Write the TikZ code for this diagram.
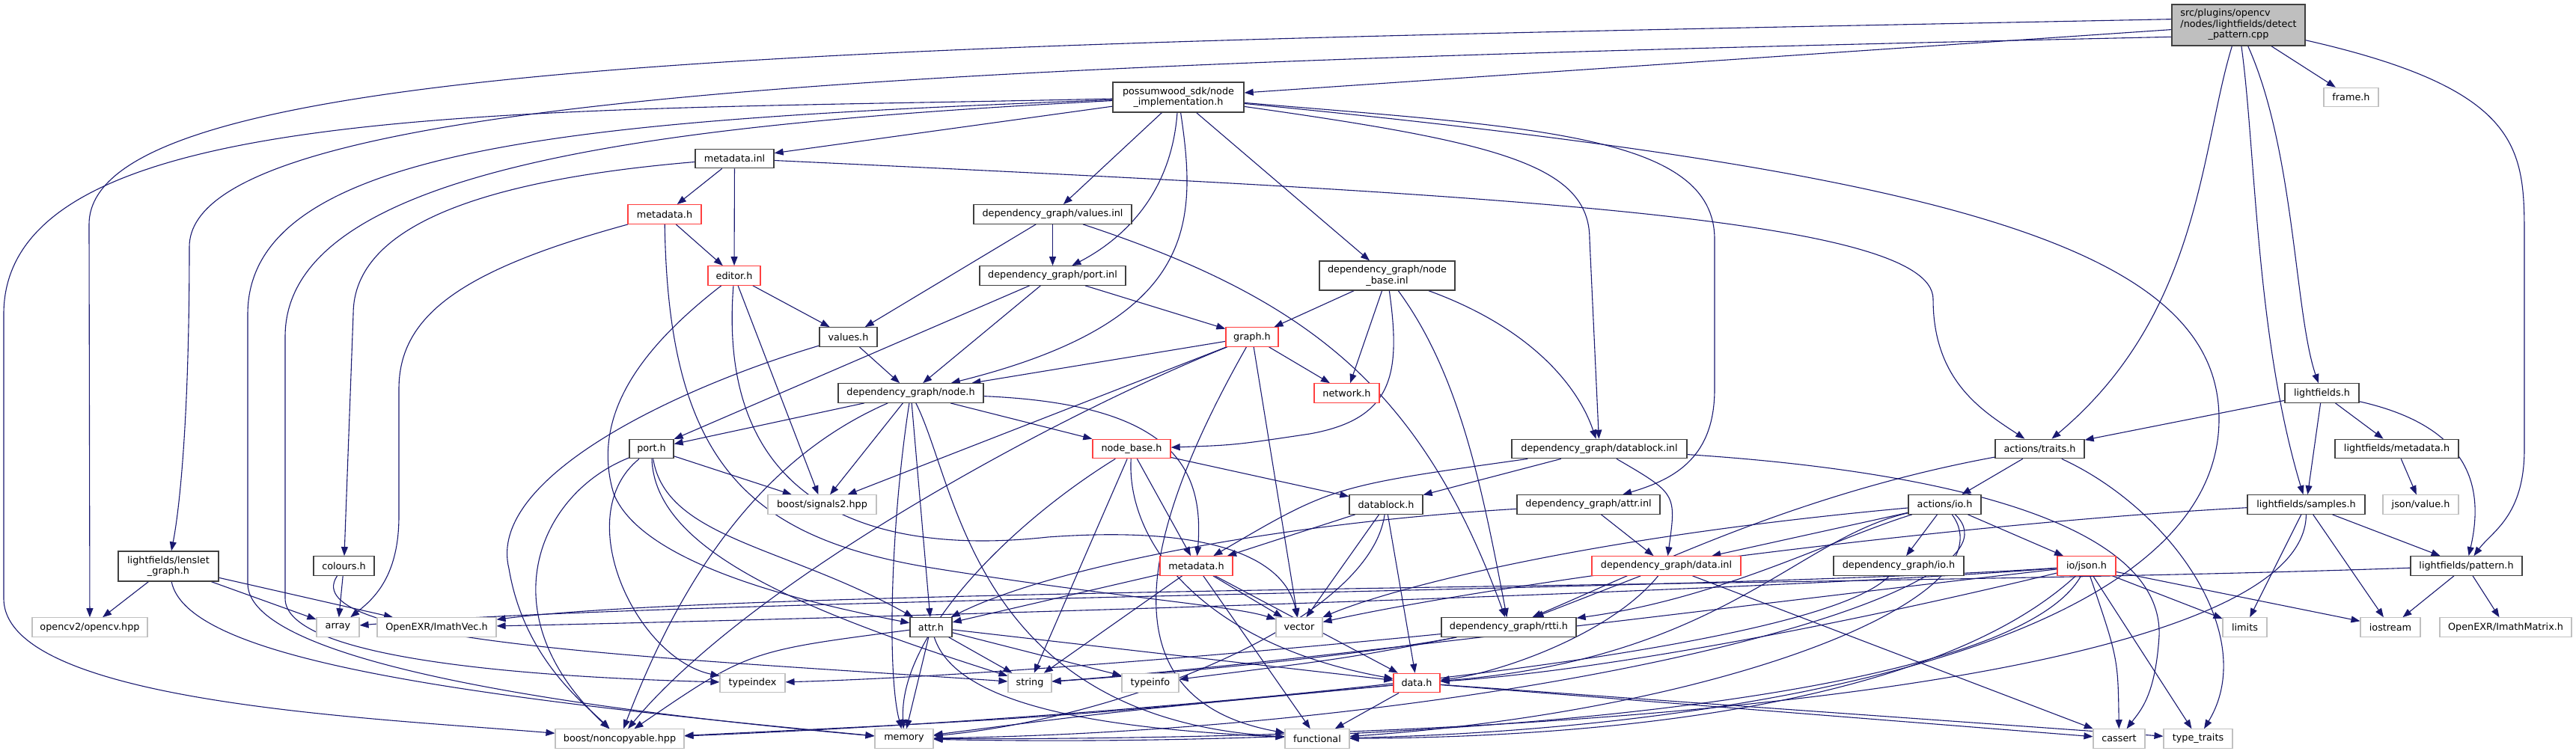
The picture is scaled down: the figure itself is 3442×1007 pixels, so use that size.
\documentclass[tikz,border=0pt]{standalone}
\usepackage{fontspec}
\setmainfont{DejaVu Sans}
\usetikzlibrary{arrows.meta}
\pgfdeclarelayer{bg}
\pgfsetlayers{bg,main}
\definecolor{edgec}{HTML}{191970}
\definecolor{bblack}{HTML}{404040}
\definecolor{bred}{HTML}{FF4040}
\definecolor{bgray}{HTML}{C0C0C0}
\definecolor{mfill}{HTML}{BFBFBF}
\tikzset{
  bx/.style={draw=bblack, line width=1.3pt, fill=white, inner sep=0pt, minimum height=25.5pt,
    font=\fontsize{12.8pt}{14.5pt}\selectfont, align=center},
  rbx/.style={bx, draw=bred},
  gbx/.style={bx, draw=bgray, line width=1.1pt},
  lnk/.style={draw=edgec, line width=1.1pt, -{Triangle[length=12pt,width=9pt]}}
}
\begin{document}
\begin{tikzpicture}[x=1pt,y=-1pt]
\useasboundingbox (0,0) rectangle (3442,1007);
% ---------------- nodes
\node[bx, fill=mfill, minimum width=178pt, minimum height=55pt] (nmain) at (2991,33.5)
  {\begin{tabular}{@{}l@{}}src/plugins/opencv\\/nodes/lightfields/detect\\\multicolumn{1}{@{}c@{}}{\_pattern.cpp}\end{tabular}};
\node[bx, minimum width=175pt, minimum height=40pt] (nposs) at (1574.5,130) {possumwood\_sdk/node\\\_implementation.h};
\node[gbx, minimum width=73pt] (nframe) at (3141.5,130) {frame.h};
\node[bx, minimum width=105pt] (nmdinl) at (981.5,212) {metadata.inl};
\node[rbx, minimum width=98pt] (nmdh1) at (888,286.5) {metadata.h};
\node[bx, minimum width=211pt] (nvinl) at (1406.5,286.5) {dependency\_graph/values.inl};
\node[rbx, minimum width=70pt] (neditor) at (981,368.5) {editor.h};
\node[bx, minimum width=195pt] (npinl) at (1406.5,368.5) {dependency\_graph/port.inl};
\node[bx, minimum width=181pt, minimum height=39pt] (nnbinl) at (1853.5,368.5) {dependency\_graph/node\\\_base.inl};
\node[bx, minimum width=77pt] (nvalues) at (1133.5,450.5) {values.h};
\node[rbx, minimum width=70pt] (ngraph) at (1673,450.5) {graph.h};
\node[bx, minimum width=194pt] (nnodeh) at (1217,525.5) {dependency\_graph/node.h};
\node[rbx, minimum width=87pt] (nnetwork) at (1799.5,525.5) {network.h};
\node[bx, minimum width=99pt] (nlf) at (3102.5,525.5) {lightfields.h};
\node[bx, minimum width=59pt] (nporth) at (870.5,600) {port.h};
\node[rbx, minimum width=104pt] (nnbh) at (1512,600) {node\_base.h};
\node[bx, minimum width=234pt] (ndbinl) at (2137,600) {dependency\_graph/datablock.inl};
\node[bx, minimum width=119pt] (ntraits) at (2725.5,600) {actions/traits.h};
\node[bx, minimum width=165pt] (nlfmd) at (3202.5,600) {lightfields/metadata.h};
\node[bx, minimum width=134pt, minimum height=40pt] (nlenslet) at (225,757) {lightfields/lenslet\\\_graph.h};
\node[bx, minimum width=81pt] (ncolours) at (459.5,756.5) {colours.h};
\node[gbx, minimum width=145pt] (nsig) at (1098.5,674.5) {boost/signals2.hpp};
\node[bx, minimum width=98pt] (ndbh) at (1852,674.5) {datablock.h};
\node[bx, minimum width=191pt] (nattrinl) at (2122.5,674.5) {dependency\_graph/attr.inl};
\node[bx, minimum width=97pt] (nactio) at (2598.5,674.5) {actions/io.h};
\node[bx, minimum width=157pt] (nsamples) at (3081.5,674.5) {lightfields/samples.h};
\node[gbx, minimum width=101pt] (njsonval) at (3234.5,674.5) {json/value.h};
\node[rbx, minimum width=97pt] (nmdh2) at (1598.5,756.5) {metadata.h};
\node[rbx, minimum width=199pt] (ndatainl) at (2226.5,756.5) {dependency\_graph/data.inl};
\node[bx, minimum width=174pt] (ndgio) at (2537,756.5) {dependency\_graph/io.h};
\node[rbx, minimum width=78pt] (njson) at (2788,756.5) {io/json.h};
\node[bx, minimum width=149pt] (npattern) at (3295.5,756.5) {lightfields/pattern.h};
\node[gbx, minimum width=154pt] (nopencv) at (120,838.5) {opencv2/opencv.hpp};
\node[gbx, minimum width=57pt] (narray) at (451.5,838.5) {array};
\node[gbx, minimum width=159pt] (nimathvec) at (583.5,838.5) {OpenEXR/ImathVec.h};
\node[bx, minimum width=56pt] (nattrh) at (1244,838.5) {attr.h};
\node[gbx, minimum width=62pt] (nvector) at (1736,838.5) {vector};
\node[bx, minimum width=180pt] (nrtti) at (2016,838.5) {dependency\_graph/rtti.h};
\node[gbx, minimum width=59pt] (nlimits) at (2999.5,838.5) {limits};
\node[gbx, minimum width=80pt] (niostream) at (3194,838.5) {iostream};
\node[gbx, minimum width=176pt] (nimathmat) at (3348,838.5) {OpenEXR/ImathMatrix.h};
\node[gbx, minimum width=87pt] (ntypeindex) at (1005.5,913) {typeindex};
\node[gbx, minimum width=58pt] (nstring) at (1376,913) {string};
\node[gbx, minimum width=76pt] (ntypeinfo) at (1537,913) {typeinfo};
\node[rbx, minimum width=62pt] (ndatah) at (1893,913) {data.h};
\node[gbx, minimum width=172pt] (nnoncopy) at (828,987.5) {boost/noncopyable.hpp};
\node[gbx, minimum width=78pt] (nmemory) at (1208,987.5) {memory};
\node[gbx, minimum width=86pt] (nfunctional) at (1760,987.5) {functional};
\node[gbx, minimum width=69pt] (ncassert) at (2831.5,987.5) {cassert};
\node[gbx, minimum width=92pt] (ntypetraits) at (2937,987.5) {type\_traits};
% ---------------- edges
\begin{pgfonlayer}{bg}
% main
\draw[lnk] (nmain) -- (nposs);
\draw[lnk] (nmain) -- (nframe);
\draw[lnk] (nmain.175) .. controls (1200,60) and (119,70) .. (119,300) -- (nopencv);
\draw[lnk] (nmain.190) .. controls (1300,85) and (253,120) .. (253,330) .. controls (253,560) and (240,680) .. (nlenslet);
\draw[lnk] (nmain) .. controls (2940,200) and (2940,420) .. (ntraits);
\draw[lnk] (nmain) .. controls (3014,200) and (3014,450) .. (nsamples);
\draw[lnk] (nmain) .. controls (3066,200) and (3066,420) .. (nlf);
\draw[lnk] (nmain) .. controls (3373,120) and (3373,200) .. (3373,320) -- (3373,600) .. controls (3373,690) and (3330,710) .. (npattern);
% poss
\draw[lnk] (nposs) -- (nmdinl);
\draw[lnk] (nposs) -- (nvinl);
\draw[lnk] (nposs) .. controls (1565,260) and (1500,320) .. (npinl);
\draw[lnk] (nposs) .. controls (1600,300) and (1600,430) .. (nnodeh);
\draw[lnk] (nposs) -- (nnbinl);
\draw[lnk] (nposs) .. controls (2000,190) and (2124,220) .. (2124,320) -- (ndbinl);
\draw[lnk] (nposs) .. controls (2050,170) and (2291,180) .. (2291,320) -- (2291,520) .. controls (2291,610) and (2240,640) .. (nattrinl);
\draw[lnk] (nposs) .. controls (2600,230) and (2965,330) .. (2965,560) .. controls (2965,870) and (2300,975) .. (nfunctional);
\draw[lnk] (nposs) .. controls (700,150) and (5,130) .. (5,420) -- (5,800) .. controls (5,940) and (500,960) .. (nnoncopy);
\draw[lnk] (nposs) .. controls (800,160) and (331,190) .. (331,420) -- (331,780) .. controls (331,900) and (900,960) .. (nmemory);
\draw[lnk] (nposs) .. controls (900,165) and (381,220) .. (381,450) -- (381,800) .. controls (381,880) and (700,905) .. (ntypeindex);
% metadata.inl
\draw[lnk] (nmdinl) -- (nmdh1);
\draw[lnk] (nmdinl) -- (neditor);
\draw[lnk] (nmdinl) .. controls (650,240) and (472,300) .. (472,420) -- (ncolours);
\draw[lnk] (nmdinl) .. controls (2000,260) and (2583,290) .. (2583,400) .. controls (2583,510) and (2650,550) .. (ntraits);
% metadata.h (sdk)
\draw[lnk] (nmdh1) -- (neditor);
\draw[lnk] (nmdh1) .. controls (620,360) and (533,420) .. (533,520) -- (533,690) .. controls (533,770) and (500,800) .. (narray);
\draw[lnk] (nmdh1) .. controls (893,620) and (1000,720) .. (1250,760) .. controls (1500,800) and (1650,810) .. (nvector);
% editor
\draw[lnk] (neditor) -- (nvalues);
\draw[lnk] (neditor) -- (nsig);
\draw[lnk] (neditor) .. controls (955,700) and (1200,740) .. (1400,718) .. controls (1650,700) and (1720,760) .. (nvector);
\draw[lnk] (neditor) .. controls (850,470) and (790,560) .. (820,660) .. controls (860,760) and (1100,810) .. (nattrh);
% values
\draw[lnk] (nvalues) -- (nnodeh);
\draw[lnk] (nvalues) .. controls (900,520) and (650,640) .. (680,760) .. controls (700,880) and (780,940) .. (nnoncopy);
% port.inl
\draw[lnk] (npinl) -- (nporth);
\draw[lnk] (npinl) -- (nnodeh);
\draw[lnk] (npinl) -- (ngraph);
% values.inl
\draw[lnk] (nvinl) -- (nvalues);
\draw[lnk] (nvinl) -- (npinl);
\draw[lnk] (nvinl) .. controls (1750,400) and (1900,520) .. (nrtti);
% node_base.inl
\draw[lnk] (nnbinl) -- (ngraph);
\draw[lnk] (nnbinl) -- (nnetwork);
\draw[lnk] (nnbinl) .. controls (1872,500) and (1862,560) .. (1750,580) .. controls (1650,595) .. (nnbh);
\draw[lnk] (nnbinl) .. controls (1950,500) and (1980,650) .. (nrtti);
\draw[lnk] (nnbinl) .. controls (2050,440) and (2110,520) .. (ndbinl);
% graph
\draw[lnk] (ngraph) -- (nnodeh);
\draw[lnk] (ngraph) -- (nsig);
\draw[lnk] (ngraph) -- (nnetwork);
\draw[lnk] (ngraph) -- (nvector);
\draw[lnk] (ngraph) .. controls (1560,650) and (1440,930) .. (nfunctional);
\draw[lnk] (ngraph) .. controls (1400,560) and (1000,780) .. (nnoncopy);
% node.h
\draw[lnk] (nnodeh) -- (nporth);
\draw[lnk] (nnodeh) .. controls (1000,620) and (900,800) .. (nnoncopy);
\draw[lnk] (nnodeh) -- (nsig);
\draw[lnk] (nnodeh) .. controls (1190,700) and (1185,900) .. (nmemory);
\draw[lnk] (nnodeh) -- (nattrh);
\draw[lnk] (nnodeh) .. controls (1280,650) and (1300,960) .. (nfunctional);
\draw[lnk] (nnodeh) -- (nnbh);
\draw[lnk] (nnodeh) .. controls (1560,540) and (1610,620) .. (nmdh2);
% port.h
\draw[lnk] (nporth) -- (nsig);
\draw[lnk] (nporth) .. controls (890,720) and (1050,730) .. (nattrh);
\draw[lnk] (nporth) .. controls (875,730) and (1050,810) .. (nstring);
\draw[lnk] (nporth) .. controls (720,660) and (650,820) .. (nnoncopy);
\draw[lnk] (nporth) .. controls (760,690) and (850,880) .. (ntypeindex);
% node_base.h
\draw[lnk] (nnbh) -- (nmdh2);
\draw[lnk] (nnbh) -- (nstring);
\draw[lnk] (nnbh) .. controls (1350,700) and (1200,850) .. (nmemory);
\draw[lnk] (nnbh) .. controls (1505,720) and (1600,860) .. (ndatah);
\draw[lnk] (nnbh) -- (ndbh);
% metadata.h (graph)
\draw[lnk] (nmdh2) -- (nattrh);
\draw[lnk] (nmdh2) -- (nstring);
\draw[lnk] (nmdh2) -- (nvector);
\draw[lnk] (nmdh2) -- (nfunctional);
\draw[lnk] (nmdh2) -- (ndatah);
% attr.h
\draw[lnk] (nattrh) .. controls (1000,870) .. (nnoncopy);
\draw[lnk] (nattrh) -- (nmemory);
\draw[lnk] (nattrh) .. controls (1280,950) and (1500,975) .. (nfunctional);
\draw[lnk] (nattrh) -- (nstring);
\draw[lnk] (nattrh) -- (ntypeinfo);
\draw[lnk] (nattrh) -- (ndatah);
% datablock.h
\draw[lnk] (ndbh) -- (nmdh2);
\draw[lnk] (ndbh) -- (nvector);
\draw[lnk] (ndbh) .. controls (1830,830) and (1500,960) .. (nmemory);
\draw[lnk] (ndbh) -- (ndatah);
% datablock.inl
\draw[lnk] (ndbinl) -- (ndbh);
\draw[lnk] (ndbinl) .. controls (1780,650) .. (nmdh2);
\draw[lnk] (ndbinl) .. controls (2240,660) .. (ndatainl);
\draw[lnk] (ndbinl) .. controls (2600,630) and (2890,700) .. (2885,850) .. controls (2880,930) and (2860,950) .. (ncassert);
% attr.inl
\draw[lnk] (nattrinl) .. controls (1700,700) and (1400,760) .. (nattrh);
\draw[lnk] (nattrinl) -- (ndatainl);
% data.inl
\draw[lnk] (ndatainl) -- (nrtti);
\draw[lnk] (ndatainl) .. controls (2150,850) and (2000,900) .. (ndatah);
\draw[lnk] (ndatainl) -- (ncassert);
% actions/io.h
\draw[lnk] (nactio) -- (ndgio);
\draw[lnk] (nactio) -- (njson);
\draw[lnk] (nactio) -- (ndatainl);
\draw[lnk] (nactio) .. controls (2450,720) and (2300,800) .. (nrtti);
\draw[lnk] (nactio) .. controls (2100,720) and (1850,790) .. (nvector);
\draw[lnk] (nactio) .. controls (2400,720) and (2300,880) .. (ndatah);
\draw[lnk] (nactio) .. controls (2690,800) and (2300,950) .. (nfunctional);
\draw[lnk] (nactio) .. controls (2730,800) and (2000,975) .. (nmemory);
% actions/traits.h
\draw[lnk] (ntraits) -- (nactio);
\draw[lnk] (ntraits) .. controls (2900,680) and (3020,850) .. (ntypetraits);
\draw[lnk] (ntraits) .. controls (2400,660) and (2200,760) .. (nrtti);
% dependency_graph/io.h
\draw[lnk] (ndgio) .. controls (2420,880) and (1500,960) .. (nnoncopy);
% io/json.h
\draw[lnk] (njson) .. controls (2300,795) and (1000,830) .. (nimathvec);
\draw[lnk] (njson) .. controls (2300,790) and (900,800) .. (narray);
\draw[lnk] (njson) .. controls (2400,800) and (1700,890) .. (nstring);
\draw[lnk] (njson) .. controls (2400,850) and (2100,900) .. (ndatah);
\draw[lnk] (njson) .. controls (2600,930) and (2200,985) .. (nfunctional);
\draw[lnk] (njson) .. controls (2680,950) and (1800,1000) .. (nmemory);
\draw[lnk] (njson) .. controls (2830,880) .. (ncassert);
\draw[lnk] (njson) -- (ntypetraits);
\draw[lnk] (njson) -- (nlimits);
\draw[lnk] (njson) -- (niostream);
% rtti.h
\draw[lnk] (nrtti) .. controls (1700,870) and (1300,905) .. (ntypeindex);
\draw[lnk] (nrtti) .. controls (1800,880) and (1500,905) .. (nstring);
\draw[lnk] (nrtti) .. controls (1800,880) .. (ntypeinfo);
% data.h
\draw[lnk] (ndatah) -- (nfunctional);
\draw[lnk] (ndatah) .. controls (1500,950) .. (nmemory);
\draw[lnk] (ndatah) .. controls (1400,960) .. (nnoncopy);
\draw[lnk] (ndatah) -- (ncassert);
\draw[lnk] (ndatah) -- (ntypetraits);
% lightfields.h
\draw[lnk] (nlf) -- (ntraits);
\draw[lnk] (nlf) -- (nsamples);
\draw[lnk] (nlf) -- (nlfmd);
\draw[lnk] (nlf) .. controls (3300,570) and (3320,650) .. (npattern);
\draw[lnk] (nlfmd) -- (njsonval);
% samples
\draw[lnk] (nsamples) -- (npattern);
\draw[lnk] (nsamples) -- (nlimits);
\draw[lnk] (nsamples) -- (niostream);
\draw[lnk] (nsamples) .. controls (3080,900) and (2200,990) .. (nmemory);
\draw[lnk] (nsamples) .. controls (2600,700) and (2000,780) .. (nvector);
% pattern
\draw[lnk] (npattern) .. controls (2500,785) and (1000,785) .. (nimathvec);
\draw[lnk] (npattern) -- (niostream);
\draw[lnk] (npattern) -- (nimathmat);
% lenslet
\draw[lnk] (nlenslet) -- (nopencv);
\draw[lnk] (nlenslet) -- (narray);
\draw[lnk] (nlenslet) -- (nimathvec);
\draw[lnk] (nlenslet) .. controls (250,880) and (600,930) .. (nmemory);
% colours
\draw[lnk] (ncolours) -- (narray);
\draw[lnk] (ncolours) .. controls (390,860) and (900,880) .. (nstring);
\end{pgfonlayer}
\end{tikzpicture}
\end{document}
